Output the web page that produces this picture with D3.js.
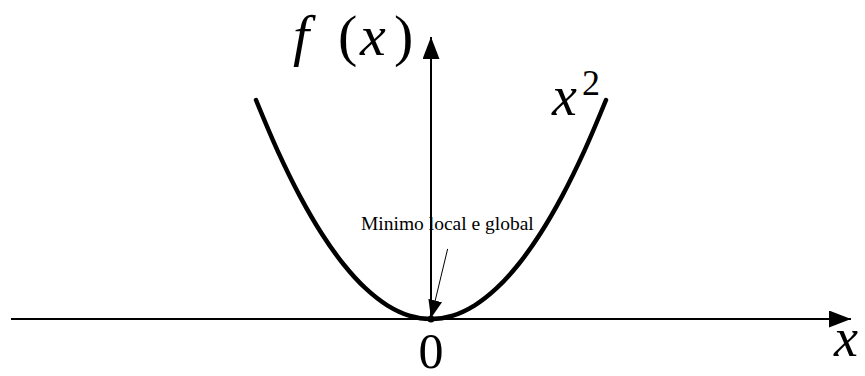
<!DOCTYPE html>
<html>
<head>
<meta charset="utf-8">
<script src="https://cdn.jsdelivr.net/npm/d3@7"></script>
<style>
    body { margin: 0; background: #fff; }
</style>
</head>
<body>
<svg id="chart" width="865" height="376"></svg>
<script>
// sample points of f(x) = x^2
const xs = [-2, -1.75, -1.5, -1.25, -1, -0.75, -0.5, -0.25, 0, 0.25, 0.5, 0.75, 1, 1.25, 1.5, 1.75, 2];
const ys = [4, 3.0625, 2.25, 1.5625, 1, 0.5625, 0.25, 0.0625, 0, 0.0625, 0.25, 0.5625, 1, 1.5625, 2.25, 3.0625, 4];

const xAxisExtent = [-4.8, 4.8];
const yAxisExtent = [0, 5.15];
const minimum = [0, 0];
const noteText = "Minimo local e global";
const notePos = [-0.8, 1.63];
const noteArrowStart = [0.19, 1.28];

const serif = "'Liberation Serif', 'Times New Roman', serif";

const svg = d3.select("#chart");
const x = d3.scaleLinear().domain([-2, 2]).range([256, 606]);
const y = d3.scaleLinear().domain([0, 4]).range([319, 100]);

const defs = svg.append("defs");
function marker(id, len, half) {
    defs.append("marker")
            .attr("id", id)
            .attr("viewBox", `0 ${-half} ${len} ${half * 2}`)
            .attr("refX", len)
            .attr("refY", 0)
            .attr("markerUnits", "userSpaceOnUse")
            .attr("markerWidth", len)
            .attr("markerHeight", half * 2)
            .attr("orient", "auto")
            .append("path")
            .attr("d", `M0,${-half}L${len},0L0,${half}Z`)
            .attr("fill", "#000");
}
marker("axisHead", 22, 8.5);
marker("noteHead", 18, 7);

// axes
svg.append("line")
        .attr("x1", x(xAxisExtent[0])).attr("y1", y(0))
        .attr("x2", x(xAxisExtent[1])).attr("y2", y(0))
        .attr("stroke", "#000").attr("stroke-width", 2)
        .attr("marker-end", "url(#axisHead)");

svg.append("line")
        .attr("x1", x(0)).attr("y1", y(yAxisExtent[0]))
        .attr("x2", x(0)).attr("y2", y(yAxisExtent[1]))
        .attr("stroke", "#000").attr("stroke-width", 2)
        .attr("marker-end", "url(#axisHead)");

// curve
const line = d3.line()
        .x((d, i) => x(xs[i]))
        .y(d => y(d))
        .curve(d3.curveCatmullRom);

svg.append("path")
        .datum(ys)
        .attr("d", line)
        .attr("fill", "none")
        .attr("stroke", "#000")
        .attr("stroke-width", 4.5)
        .attr("stroke-linecap", "round");

// minimum point
svg.append("circle")
        .attr("cx", x(minimum[0]))
        .attr("cy", y(minimum[1]))
        .attr("r", 3.5)
        .attr("fill", "#000");

// annotation
svg.append("text")
        .attr("x", x(notePos[0]))
        .attr("y", y(notePos[1]))
        .attr("font-family", serif)
        .attr("font-size", 19.5)
        .text(noteText);

svg.append("line")
        .attr("x1", x(noteArrowStart[0])).attr("y1", y(noteArrowStart[1]))
        .attr("x2", x(minimum[0])).attr("y2", y(minimum[1]) - 1)
        .attr("stroke", "#000").attr("stroke-width", 1)
        .attr("marker-end", "url(#noteHead)");

// labels
function label(px, py, size, str, italic) {
    return svg.append("text")
            .attr("x", px)
            .attr("y", py)
            .attr("font-family", serif)
            .attr("font-size", size)
            .attr("font-style", italic ? "italic" : "normal")
            .text(str);
}

label(293, 55, 58, "f", true);
label(338, 55, 58, "(", false);
label(360, 55, 58, "x", true);
label(394, 55, 58, ")", false);

label(552, 115, 56, "x", true);
label(582, 95, 36, "2", false);

svg.append("text")
        .attr("x", x(0))
        .attr("y", 368)
        .attr("text-anchor", "middle")
        .attr("font-family", serif)
        .attr("font-size", 50)
        .text("0");

label(834, 356, 54, "x", true);
</script>
</body>
</html>
